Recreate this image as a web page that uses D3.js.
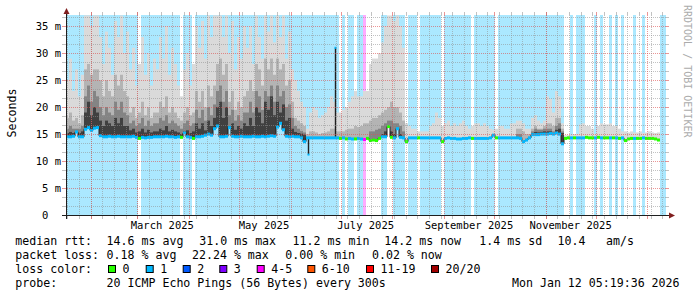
<!DOCTYPE html>
<html>
<head>
<meta charset="utf-8">
<script src="https://cdn.jsdelivr.net/npm/d3@7"></script>
<style>
  body { margin: 0; background: #fff; }
  svg { display: block; }
  text { font-family: "DejaVu Sans Mono", monospace; fill: #000; }
</style>
</head>
<body>
<svg id="chart" width="697" height="297"></svg>
<script>
// graph window: last 360 days up to the stamp
const END = Date.UTC(2026, 0, 12, 5, 19, 36);
const DAY = 86400000;
const SPAN_DAYS = 360;
const STEP_DAYS = 1.8;   // one column of the picture = 1.8 days
const Y_MAX = 37.08;     // ms

// median rtt per column (ms)
const median = [
  14.5,14.5,14.6,15.4,14.5,14.5,15.9,16.2,15.7,16.1,
  16.2,14.7,14.5,14.5,14.6,14.5,14.5,14.6,14.5,14.5,
  14.5,14.5,14.6,14.4,14.2,14.4,14.3,14.4,14.4,14.5,
  14.5,14.5,14.5,14.6,14.5,14.5,14.4,14.5,14.4,15.2,
  14.5,14.4,14.2,14.5,14.5,14.6,14.8,15.0,14.8,16.0,
  16.5,14.5,14.5,14.6,16.2,14.6,14.5,14.5,14.6,14.5,
  14.5,14.5,14.6,14.5,14.5,14.6,14.5,14.6,14.7,14.6,
  16.3,17.0,15.8,14.6,14.5,14.6,14.5,14.5,14.3,13.6,
  14.3,14.3,14.3,14.3,14.3,14.3,14.3,14.3,14.3,14.3,
  14.3,14.2,14.3,14.1,14.2,14.1,14.1,14.2,14.1,14.0,
  14.2,13.8,13.9,13.8,14.2,14.5,14.5,16.4,14.4,14.3,
  16.0,14.4,14.3,13.6,14.3,14.3,14.3,14.3,14.3,14.3,
  14.3,14.3,14.3,14.3,14.3,13.6,14.2,14.3,14.2,14.2,
  14.1,14.1,14.2,14.2,14.3,14.2,14.2,14.2,14.2,14.2,
  14.2,14.3,14.8,14.3,14.3,14.3,14.3,14.3,14.3,14.3,
  14.3,14.2,13.6,13.9,14.3,14.9,14.9,14.9,15.0,15.0,
  15.0,15.1,15.0,15.2,15.0,13.2,14.2,14.3,14.3,14.3,
  14.3,14.3,14.3,14.4,14.3,14.3,14.3,14.4,14.3,14.3,
  14.3,14.3,14.3,14.3,14.2,14.3,13.8,14.1,14.2,14.2,
  14.2,14.2,14.3,14.2,14.2,14.2,14.1,13.9,null,null
];

// single short-lived median excursions (time, ms)
const spikeTimes = [Date.UTC(2025, 5, 27, 14), Date.UTC(2025, 5, 11, 10)];
const spikeValues = [31.0, 11.2];

// loss class per column (index into lossLabels)
const lossClass = [
  1,1,1,1,1,1,1,1,1,1,
  1,1,1,1,1,1,1,1,1,1,
  1,1,1,1,0,1,1,1,1,1,
  1,1,1,1,1,1,1,1,0,1,
  1,1,0,1,1,1,1,1,1,1,
  1,1,1,1,1,1,1,1,1,1,
  1,1,1,1,1,1,1,1,1,1,
  1,1,1,1,1,1,1,1,1,1,
  1,1,1,1,1,1,1,1,1,1,
  1,0,1,0,1,1,0,1,1,4,
  0,0,0,0,0,1,1,0,0,1,
  1,1,1,0,1,1,1,0,1,1,
  1,1,1,1,1,0,1,1,1,1,
  1,1,1,1,1,0,1,1,1,1,
  1,1,1,0,1,1,1,1,1,1,
  1,1,1,1,1,1,1,1,1,1,
  1,1,1,1,1,1,0,0,1,0,
  1,1,1,0,0,0,1,0,1,0,
  0,1,0,1,0,1,0,0,0,1,
  0,0,1,0,0,0,0,0,1,1
];

// smoke: top of the lightest band (slowest ping) per column
const smokeMax = [
  25,29,23,27,22,26,37,37,35,37,
  37,33,28,34,31,26,36,33,37,30,
  34,27,31,24,28,33,26,30,24,29,
  27,33,29,35,26,31,28,24,22,27,
  30,24,28,35,31,36,29,37,33,37,
  37,37,33,37,30,36,27,33,29,35,
  31,35,28,37,33,29,37,34,37,32,
  37,33,37,29,34,27,25,23,21,20,
  16,19,20,19.5,18,18.5,19,20,22,21,
  19,19,19.5,20,21,22,23,22,22,23,
  23,28,29,29,30,32,35,37,37,36,
  37,35,31,17,16.5,16,16,15.5,15.5,15.5,
  15.5,16.5,17,19,18,16.5,17,17.5,16.5,17,
  16.5,17,17.5,16.5,16,16.5,17,17,16.5,17,
  16.5,16,15.8,16,16.5,16.5,16,16,17,17,
  17.5,17.5,17,16,16,18,18.5,17.5,17,17.5,
  22,21.5,19,23,22,17,14.8,14.8,14.8,15,
  15,16.8,17,16.5,16.5,16,15,16.5,17,16.8,
  16.8,17,16.5,16.5,16,15.5,15.5,15.3,15.5,15.3,
  15.3,15.5,15.2,15.3,15.5,15.3,15.2,15.3,null,null
];

// smoke: top of the second band
const smokeUpper = [
  18,19,17.5,18,17,18.5,27,28,26,27,
  27,25,22,25,23,22,26,24,26,23,
  22,19,20,18,19,21,18.5,20,18,19,
  19,21,20,22,19,20,19,18,17.5,19,
  20,18.5,19,23,21,23,20,24,22,24,
  28,29,26,28,21,23,19.5,21,20,22,
  23,25,23,28,27,24,29,27,29,26,
  29,27,28,24,25,21,18,17.5,17,16.5,
  15,15.5,15.5,15.3,15,15.2,15.3,15.5,16,16,
  15.5,15.5,15.5,15.8,16,16,16.5,16.3,16.5,17,
  17,17.5,18,18,18.5,19,19.5,20,21,20,
  20,19,17.5,null,null,null,null,null,null,null,
  null,null,null,null,null,null,null,null,null,null,
  null,null,null,null,null,null,null,null,null,null,
  null,null,null,null,null,null,null,null,null,null,
  16,16,15.5,15,15,16,16.5,16,16,16.5,
  17,17,16.5,18,18,16,null,null,null,null,
  null,null,null,null,null,null,null,null,null,null,
  null,null,null,null,null,null,null,null,null,null,
  null,null,null,null,null,null,null,null,null,null
];

// smoke: top of the third band
const smokeMiddle = [
  16,16.5,16,16,16,16.5,22,24,21,23,
  22,20,18.5,20,19,18.5,21,19.5,21,19,
  18.5,17,17.5,16.5,17,18,16.5,17.5,16.5,17,
  17,18,17.5,18.5,17,17.5,17,16.5,16,17,
  17.5,16.5,17,19.5,18,19.5,17.5,20,18.5,20.5,
  23,24,21,23,18.5,19.5,17.5,18.5,17.5,19,
  19,21,19,23,22,19.5,23,22,24,21,
  24,22,23,20,20.5,18,16.5,16,15.6,15.3,
  null,null,null,null,null,null,null,null,null,null,
  null,null,null,null,null,null,null,null,null,null,
  null,15.5,15.5,15.8,16,16.5,17,17.5,17.5,17,
  17,16.5,15.5,null,null,null,null,null,null,null,
  null,null,null,null,null,null,null,null,null,null,
  null,null,null,null,null,null,null,null,null,null,
  null,null,null,null,null,null,null,null,null,null,
  15,15,null,null,null,15.5,16,15.8,15.8,16,
  16,16,15.5,16.5,17,15.5,null,null,null,null,
  null,null,null,null,null,null,null,null,null,null,
  null,null,null,null,null,null,null,null,null,null,
  null,null,null,null,null,null,null,null,null,null
];

// smoke: top of the darkest band
const smokeCore = [
  15.2,15.4,15.2,15.3,15.2,15.5,19,21,18.5,20,
  19,17.5,16.5,17.5,17,16.5,18,17,18,16.5,
  16.5,15.7,16,15.3,15.5,16,15.3,15.8,15.3,15.5,
  15.5,16,15.7,16.5,15.5,15.8,15.5,15.3,15,15.5,
  15.7,15.2,15.5,17,16,17,15.7,17.5,16.5,18,
  20,21,18,20,16.5,17,15.8,16.5,16,17,
  16.5,18,16.5,20,19,17,21,19.5,22,18.5,
  21,19,20.5,17.5,18,16,15.4,15.2,15.1,14.9,
  null,null,null,null,null,null,null,null,null,null,
  null,null,null,null,null,null,null,null,null,null,
  null,null,null,null,null,15,15.5,16,15.5,15,
  15.5,15,null,null,null,null,null,null,null,null,
  null,null,null,null,null,null,null,null,null,null,
  null,null,null,null,null,null,null,null,null,null,
  null,null,null,null,null,null,null,null,null,null,
  null,null,null,null,null,15.2,15.4,15.3,15.4,15.5,
  15.5,15.5,15.2,15.8,16,15.2,null,null,null,null,
  null,null,null,null,null,null,null,null,null,null,
  null,null,null,null,null,null,null,null,null,null,
  null,null,null,null,null,null,null,null,null,null
];

const yTickValues = [0, 5, 10, 15, 20, 25, 30, 35];
const yTickLabels = ['0\u00a0\u00a0', '5 m', '10 m', '15 m', '20 m', '25 m', '30 m', '35 m'];
const lossLabels = ['0', '1', '2', '3', '4-5', '6-10', '11-19', '20/20'];
const lossColors = ['#26ff00', '#00b8ff', '#0059ff', '#7e00ff', '#ff00ff', '#ff5500', '#ff0000', '#a10000'];
const smokeGrays = ['#dadada', '#b4b4b4', '#848484', '#404040'];

const rttStats = ['median rtt:', '14.6 ms avg', '31.0 ms max', '11.2 ms min', '14.2 ms now', '1.4 ms sd', '10.4', 'am/s'];
const lossStats = ['packet loss:', '0.18 % avg', '22.24 % max', '0.00 % min', '0.02 % now'];
const probeRow = ['probe:', '20 ICMP Echo Pings (56 Bytes) every 300s', 'Mon Jan 12 05:19:36 2026'];

const START = END - SPAN_DAYS * DAY;
const STEP = STEP_DAYS * DAY;

const svg = d3.select('#chart');
const x = d3.scaleUtc().domain([new Date(START), new Date(END)]).range([66, 666]);
const y = d3.scaleLinear().domain([0, Y_MAX]).range([215, 15]).clamp(true);

const cols = median.map((m, i) => ({
  i,
  x0: x(new Date(START + i * STEP)),
  x1: x(new Date(START + (i + 1) * STEP)),
  m,
  loss: lossClass[i]
}));

svg.append('defs').append('clipPath').attr('id', 'plot')
  .append('rect').attr('x', 67).attr('y', 15).attr('width', 599).attr('height', 200);

const plot = svg.append('g').attr('clip-path', 'url(#plot)');

// loss background
plot.append('g').selectAll('rect')
  .data(cols.filter(c => c.loss > 0))
  .join('rect')
  .attr('x', c => c.x0).attr('width', c => c.x1 - c.x0)
  .attr('y', 15).attr('height', 200)
  .attr('fill', c => lossColors[c.loss])
  .attr('fill-opacity', 0.33);

// smoke bands, light to dark
[smokeMax, smokeUpper, smokeMiddle, smokeCore].forEach((band, k) => {
  plot.append('g').selectAll('rect')
    .data(cols.filter(c => c.m != null && band[c.i] != null && band[c.i] > c.m))
    .join('rect')
    .attr('x', c => c.x0).attr('width', c => c.x1 - c.x0)
    .attr('y', c => y(band[c.i]))
    .attr('height', c => y(c.m) - y(band[c.i]))
    .attr('fill', smokeGrays[k]);
});

// median: thin dark line, then a loss coloured band
const medPts = [];
cols.forEach(c => {
  if (c.m == null) return;
  medPts.push([c.x0, y(c.m)], [c.x1, y(c.m)]);
});
plot.append('path')
  .attr('d', d3.line()(medPts))
  .attr('fill', 'none').attr('stroke', '#202020').attr('stroke-width', 1);

// short excursions: one pixel wide dark stroke with a coloured tip
spikeTimes.forEach((t, k) => {
  const c = cols[Math.floor((t - START) / STEP)];
  const sx = Math.round(x(new Date(t))) + 0.5;
  plot.append('line')
    .attr('x1', sx).attr('x2', sx)
    .attr('y1', y(c.m)).attr('y2', y(spikeValues[k]))
    .attr('stroke', '#202020').attr('stroke-width', 1.4);
  plot.append('rect')
    .attr('x', sx - 1).attr('width', 2)
    .attr('y', y(spikeValues[k]) - 1).attr('height', 2)
    .attr('fill', lossColors[c.loss]);
});

plot.append('g').selectAll('rect')
  .data(cols.filter(c => c.m != null))
  .join('rect')
  .attr('x', c => c.x0).attr('width', c => c.x1 - c.x0)
  .attr('y', c => y(c.m) - 1.5).attr('height', 3)
  .attr('fill', c => lossColors[c.loss]);

// grid on top
const grid = svg.append('g').attr('shape-rendering', 'crispEdges');
const minorCol = 'rgba(143,143,143,0.55)';
const majorCol = 'rgba(222,79,79,0.6)';

const minorY = d3.range(1, 23).filter(k => k % 3 !== 0).map(k => k * 5 / 3);
const majorY = yTickValues.filter(v => v > 0);

function hLine(v, col) {
  const yy = Math.round(y(v)) + 0.5;
  grid.append('line').attr('x1', 67).attr('x2', 666).attr('y1', yy).attr('y2', yy)
    .attr('stroke', col).attr('stroke-dasharray', '1,1');
  grid.append('line').attr('x1', 62).attr('x2', 66).attr('y1', yy).attr('y2', yy).attr('stroke', col);
  grid.append('line').attr('x1', 666).attr('x2', 669).attr('y1', yy).attr('y2', yy).attr('stroke', col);
}
function vLine(t, col) {
  const xx = Math.round(x(t)) + 0.5;
  grid.append('line').attr('x1', xx).attr('x2', xx).attr('y1', 15).attr('y2', 215)
    .attr('stroke', col).attr('stroke-dasharray', '1,1');
  grid.append('line').attr('x1', xx).attr('x2', xx).attr('y1', 215).attr('y2', 219).attr('stroke', col);
  grid.append('line').attr('x1', xx).attr('x2', xx).attr('y1', 12).attr('y2', 15).attr('stroke', col);
}
minorY.forEach(v => hLine(v, minorCol));
majorY.forEach(v => hLine(v, majorCol));
d3.utcSaturday.range(new Date(START), new Date(END)).forEach(t => vLine(t, minorCol));
d3.utcMonth.range(new Date(START), new Date(END)).forEach(t => vLine(t, majorCol));

// axes + arrows
const axis = svg.append('g');
axis.append('line').attr('x1', 66.5).attr('x2', 66.5).attr('y1', 219).attr('y2', 12)
  .attr('stroke', '#1f1f1f');
axis.append('line').attr('x1', 62).attr('x2', 670).attr('y1', 215.5).attr('y2', 215.5)
  .attr('stroke', '#1f1f1f');
axis.append('path').attr('d', 'M63.5,14 L69.5,14 L66.5,8 Z').attr('fill', '#801f1f');
axis.append('path').attr('d', 'M669,212.5 L669,218.5 L675,215.5 Z').attr('fill', '#801f1f');

// y labels
svg.append('g').selectAll('text')
  .data(yTickValues)
  .join('text')
  .attr('x', 61).attr('y', v => y(v) + 3.8)
  .attr('text-anchor', 'end')
  .attr('font-size', 10.5)
  .attr('xml:space', 'preserve')
  .text((v, i) => yTickLabels[i]);

// x labels: month name, centred half a month after its start
const monthLabels = [
  Date.UTC(2025, 2, 1), Date.UTC(2025, 4, 1), Date.UTC(2025, 6, 1),
  Date.UTC(2025, 8, 1), Date.UTC(2025, 10, 1)
];
const fmt = d3.utcFormat('%B %Y');
svg.append('g').selectAll('text')
  .data(monthLabels)
  .join('text')
  .attr('x', t => x(new Date(t + 15 * DAY)))
  .attr('y', 228.5)
  .attr('text-anchor', 'middle')
  .attr('font-size', 10.5)
  .text(t => fmt(new Date(t)));

// y title and watermark
svg.append('text')
  .attr('transform', 'translate(16,113) rotate(-90)')
  .attr('text-anchor', 'middle').attr('font-size', 11.6)
  .text('Seconds');
svg.append('text')
  .attr('transform', 'translate(684,5) rotate(90)')
  .attr('font-size', 10).style('fill', '#ababab')
  .text('RRDTOOL / TOBI OETIKER');

// legend
const legend = svg.append('g').attr('font-size', 11.6);
const rttX = [15.3, 106.6, 199.3, 292.6, 384.3, 479.3, 557.6, 606];
rttStats.forEach((s, i) => legend.append('text').attr('x', rttX[i]).attr('y', 245).text(s));
const lossX = [15.3, 106.6, 192, 285.3, 372];
lossStats.forEach((s, i) => legend.append('text').attr('x', lossX[i]).attr('y', 259).text(s));

legend.append('text').attr('x', 15.3).attr('y', 273).text('loss color:');
const boxX = [108, 145.7, 182.7, 219.3, 256.7, 307.3, 366, 431];
lossLabels.forEach((lab, i) => {
  legend.append('rect')
    .attr('x', boxX[i] + 0.5).attr('y', 265.5).attr('width', 7).attr('height', 7)
    .attr('fill', lossColors[i]).attr('stroke', '#000').attr('stroke-width', 1);
  legend.append('text').attr('x', boxX[i] + 14.5).attr('y', 273).text(lab);
});

const probeX = [15.3, 106.6, 512];
probeRow.forEach((s, i) => legend.append('text').attr('x', probeX[i]).attr('y', 287).text(s));
</script>
</body>
</html>
